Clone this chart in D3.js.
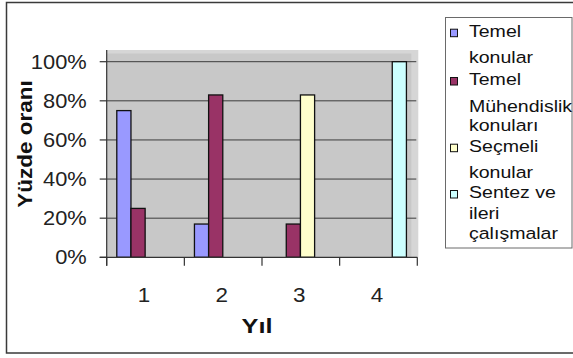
<!DOCTYPE html>
<html>
<head>
<meta charset="utf-8">
<script src="https://cdn.jsdelivr.net/npm/d3@7"></script>
<style>
  html, body { margin: 0; padding: 0; background: #fff; }
  svg { display: block; font-family: Arial, "Liberation Sans", sans-serif; }
</style>
</head>
<body>
<svg id="chart" width="573" height="358"></svg>
<script>
// Yıllara göre ders gruplarının yüzde oranları
const years = ["1", "2", "3", "4"];
const seriesNames = ["Temel konular", "Temel Mühendislik konuları", "Seçmeli konular", "Sentez ve ileri çalışmalar"];
const temelKonular = [75, 17, 0, 0];
const muhendislikKonulari = [25, 83, 17, 0];
const secmeliKonular = [0, 0, 83, 0];
const sentezCalismalar = [0, 0, 0, 100];
const yTicks = [0, 20, 40, 60, 80, 100];
// legend text, wrapped as in the legend box
const legendLines = [
  ["Temel", "konular"],
  ["Temel", "Mühendislik", "konuları"],
  ["Seçmeli", "konular"],
  ["Sentez ve", "ileri", "çalışmalar"]
];

const colors = ["#9999FF", "#993366", "#FFFFCC", "#CCFFFF"];
const seriesValues = [temelKonular, muhendislikKonulari, secmeliKonular, sentezCalismalar];

const svg = d3.select("#chart");

// outer chart frame
svg.append("rect")
  .attr("x", 6.5).attr("y", 2.5)
  .attr("width", 580).attr("height", 350.5)
  .attr("fill", "#fff").attr("stroke", "#3a3a3a").attr("stroke-width", 1.5);

// plot geometry
const plot = { left: 106.7, right: 417.3, top: 50, zero: 257.3, max: 61.7 };

const x0 = d3.scaleBand().domain(years).range([plot.left, plot.right]).padding(0);
const bw = x0.bandwidth();
const x1 = d3.scaleBand().domain(d3.range(seriesNames.length))
  .range([bw * 0.13, bw * 0.86]).padding(0);
const y = d3.scaleLinear().domain([0, 100]).range([plot.zero, plot.max]);

// wall
svg.append("rect")
  .attr("x", plot.left).attr("y", plot.top)
  .attr("width", plot.right - plot.left + 1).attr("height", plot.zero - plot.top)
  .attr("fill", "#d6d6d6");
svg.append("rect")
  .attr("x", plot.left).attr("y", plot.top + 3.5)
  .attr("width", plot.right - plot.left - 6).attr("height", plot.zero - plot.top - 3.5)
  .attr("fill", "#c8c8c8");

// gridlines
svg.append("g").selectAll("line")
  .data(yTicks.filter(t => t > 0))
  .join("line")
  .attr("x1", plot.left).attr("x2", plot.right - 1)
  .attr("y1", d => y(d)).attr("y2", d => y(d))
  .attr("stroke", "#3c3c3c").attr("stroke-width", 1);

// bars
const groups = svg.append("g").selectAll("g")
  .data(years)
  .join("g")
  .attr("transform", d => `translate(${x0(d)},0)`);

groups.selectAll("rect")
  .data((yr, i) => seriesValues.map((vals, s) => ({ s, value: vals[i] })).filter(d => d.value > 0))
  .join("rect")
  .attr("x", d => x1(d.s))
  .attr("width", x1.bandwidth())
  .attr("y", d => y(d.value))
  .attr("height", d => y(0) - y(d.value))
  .attr("fill", d => colors[d.s])
  .attr("stroke", "#111").attr("stroke-width", 1.3);

// axes lines and ticks
const axis = svg.append("g").attr("stroke", "#333").attr("stroke-width", 1.2);
axis.append("line")
  .attr("x1", plot.left).attr("x2", plot.left)
  .attr("y1", plot.top).attr("y2", plot.zero + 8.5);
axis.append("line")
  .attr("x1", plot.left - 7).attr("x2", plot.right)
  .attr("y1", plot.zero).attr("y2", plot.zero);
axis.selectAll(".yt")
  .data(yTicks)
  .join("line")
  .attr("x1", plot.left - 7).attr("x2", plot.left)
  .attr("y1", d => y(d)).attr("y2", d => y(d));
axis.selectAll(".xt")
  .data(years.map(d => x0(d)).concat([plot.right]))
  .join("line")
  .attr("x1", d => d).attr("x2", d => d)
  .attr("y1", plot.zero).attr("y2", plot.zero + 8.5);

// y tick labels
svg.append("g").selectAll("text")
  .data(yTicks)
  .join("text")
  .attr("transform", d => `translate(86.7,${y(d) + 6.8}) scale(1.12,1)`)
  .attr("text-anchor", "end")
  .attr("font-size", 19.5)
  .attr("fill", "#222")
  .text(d => d + "%");

// x tick labels
svg.append("g").selectAll("text")
  .data(years)
  .join("text")
  .attr("transform", d => `translate(${x0(d) + bw / 2 - 1.5},302) scale(1.15,1)`)
  .attr("text-anchor", "middle")
  .attr("font-size", 19.5)
  .attr("fill", "#222")
  .text(d => d);

// axis titles
svg.append("text")
  .attr("transform", "translate(31.5,144) rotate(-90) scale(1.07,1)")
  .attr("text-anchor", "middle")
  .attr("font-size", 21).attr("font-weight", "bold")
  .attr("fill", "#111")
  .text("Yüzde oranı");

svg.append("text")
  .attr("transform", "translate(257,333.3) scale(1.3,1)")
  .attr("text-anchor", "middle")
  .attr("font-size", 19.5).attr("font-weight", "bold")
  .attr("fill", "#111")
  .text("Yıl");

// legend
const legend = svg.append("g");
legend.append("rect")
  .attr("x", 445.5).attr("y", 17.5)
  .attr("width", 126.5).attr("height", 230.5)
  .attr("fill", "#fff").attr("stroke", "#6a6a6a").attr("stroke-width", 1);

// baselines of each wrapped line
const legendBaselines = [
  [36.7, 63.3],
  [85, 111.7, 130.7],
  [151.7, 178],
  [198, 219, 238.5]
];

legendLines.forEach((lines, i) => {
  const base = legendBaselines[i];
  legend.append("rect")
    .attr("x", 450.5).attr("y", base[0] - 7.5)
    .attr("width", 7).attr("height", 7.5)
    .attr("fill", colors[i]).attr("stroke", "#111").attr("stroke-width", 1);
  lines.forEach((ln, j) => {
    legend.append("text")
      .attr("transform", `translate(469,${base[j]}) scale(1.15,1)`)
      .attr("font-size", 17)
      .attr("fill", "#111")
      .text(ln);
  });
});
</script>
</body>
</html>
